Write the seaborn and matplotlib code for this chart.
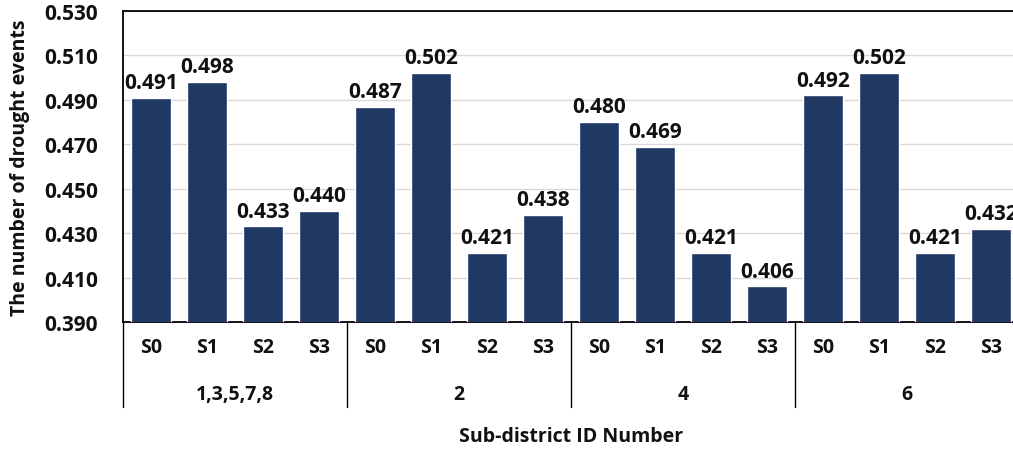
import matplotlib
matplotlib.use("Agg")
import matplotlib.pyplot as plt
import seaborn as sns
import pandas as pd
import numpy as np

groups = ["1,3,5,7,8", "2", "4", "6"]
scenarios = ["S0", "S1", "S2", "S3"]
values = [
    0.491, 0.498, 0.433, 0.440,
    0.487, 0.502, 0.421, 0.438,
    0.480, 0.469, 0.421, 0.406,
    0.492, 0.502, 0.421, 0.432,
]
yticks = [0.390, 0.410, 0.430, 0.450, 0.470, 0.490, 0.510, 0.530]

sns.set_theme(style="white")
plt.rcParams['font.family'] = ['Open Sans', 'DejaVu Sans']
plt.rcParams['font.weight'] = 'bold'

keys = [f"{g}|{s}" for g in groups for s in scenarios]
df = pd.DataFrame({"key": keys, "value": values})

W, H = 1013, 452
fig = plt.figure(figsize=(W / 100, H / 100), dpi=100)
left, right, top, bottom = 123, 1019, 12, 323
ax = fig.add_axes([left / W, 1 - bottom / H, (right - left) / W, (bottom - top) / H])

sns.barplot(data=df, x="key", y="value", order=keys, color="#203864",
            saturation=1, width=0.7, ax=ax, zorder=3)

ax.set_ylim(0.390, 0.530)
ax.set_yticks(yticks)
ax.set_yticklabels([f"{t:.3f}" for t in yticks], fontsize=15, fontweight='bold')
ax.yaxis.grid(True, color="#d9d9d9", linewidth=1, zorder=0)
ax.set_axisbelow(True)
ax.tick_params(axis='y', length=0, pad=18, colors='#111111')
ax.tick_params(axis='x', length=0, pad=11, colors='#111111')
ax.set_xlim(-0.5, len(keys) - 0.5)
ax.set_xticks(range(len(keys)))
ax.set_xticklabels([k.split("|")[1] for k in keys], fontsize=14, fontweight='bold')
for sp in ["top", "left", "bottom", "right"]:
    ax.spines[sp].set_color("black")
    ax.spines[sp].set_linewidth(1.3)

for i, v in enumerate(values):
    ax.text(i, v + 0.0022, f"{v:.3f}", ha="center", va="bottom",
            fontsize=15, fontweight='bold', color="#111111")

# group separators and labels
trans = ax.get_xaxis_transform()
sep_len = (408 - 323) / (bottom - top)
for gi in range(len(groups) + 1):
    xpos = gi * 4 - 0.5
    ax.plot([xpos, xpos], [0, -sep_len], transform=trans, color="black",
            linewidth=1, clip_on=False)
for gi, g in enumerate(groups):
    ax.text(gi * 4 + 1.5, -(395 - 323) / (bottom - top), g, transform=trans,
            ha="center", va="center", fontsize=14, fontweight='bold', color='#111111')

ax.set_xlabel("")
ax.set_ylabel("")
fig.text((left + right) / 2 / W, 1 - 437 / H, "Sub-district ID Number",
         ha="center", va="center", fontsize=14, fontweight='bold', color='#111111')
fig.text(20 / W, 1 - ((top + bottom) / 2) / H, "The number of drought events",
         ha="center", va="center", rotation=90, fontsize=14, fontweight='bold',
         color='#111111')

fig.savefig("out.png", dpi=100)
